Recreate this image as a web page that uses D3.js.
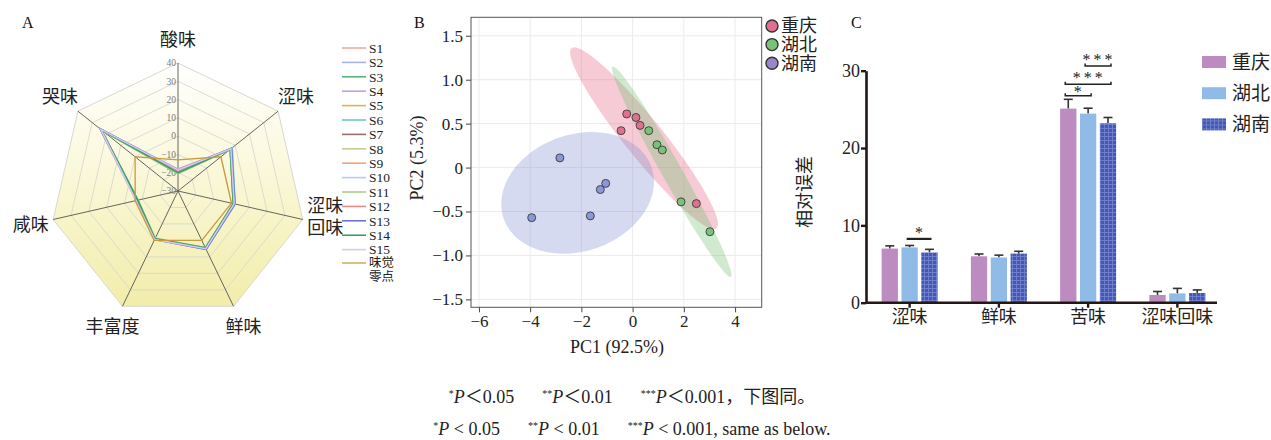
<!DOCTYPE html>
<html>
<head>
<meta charset="utf-8">
<script src="https://cdn.jsdelivr.net/npm/d3@7"></script>
<style>
  body { margin: 0; background: #fff; }
  svg { display: block; }
</style>
</head>
<body>
<svg id="chart" width="1271" height="440"></svg>
<script>
// ---------- data ----------
var tasteAxes = ["酸味", "涩味", "涩味回味", "鲜味", "丰富度", "咸味", "哭味"];
var radarTicks = [-30, -20, -10, 0, 10, 20, 30, 40];
var sampleNames = ["S1","S2","S3","S4","S5","S6","S7","S8","S9","S10","S11","S12","S13","S14","S15"];
var sampleValues = [
  [-19, 7, 1.5, 5, -1, -7, 24],
  [-18.5, 7.5, 2, 5.5, -0.5, -7, 24.5],
  [-20.5, 6.5, 1, 4.5, -1, -7.5, 23.5],
  [-18, 7, 1.5, 5, -0.5, -6.5, 24.5],
  [-19.5, 7, 1.5, 5, -1, -7, 24],
  [-19, 8, 2, 5, -1, -7, 23.5],
  [-19, 7, 1.5, 5, -1, -7, 24],
  [-20, 6.5, 1, 4.5, -1, -7, 23.5],
  [-19, 7, 1.5, 5, -1, -7, 24],
  [-18.5, 7.5, 2, 5.5, -0.5, -6.5, 24.5],
  [-20.5, 6.5, 1, 4.5, -1.5, -7.5, 23.5],
  [-19, 7, 1.5, 5, -1, -7, 24],
  [-18.5, 7.5, 2, 5.5, -0.5, -7, 24.5],
  [-20, 6.5, 1, 4.5, -1, -7.5, 23.5],
  [-18.5, 7, 1.5, 5, -0.5, -6.5, 24]
];
var zeroName = ["味觉", "零点"];
var zeroValues = [-13, 0, 0, 0, 0, -6, 0];

var regions = ["重庆", "湖北", "湖南"];
// PCA scores
var pc1Chongqing = [-0.23, 0.13, 0.29, -0.45, 2.49];
var pc2Chongqing = [0.61, 0.57, 0.48, 0.42, -0.41];
var pc1Hubei = [0.63, 0.95, 1.16, 1.89, 3.02];
var pc2Hubei = [0.42, 0.26, 0.20, -0.39, -0.73];
var pc1Hunan = [-2.84, -1.05, -1.26, -3.94, -1.65];
var pc2Hunan = [0.11, -0.18, -0.25, -0.57, -0.55];
var pcXTicks = [-6, -4, -2, 0, 2, 4];
var pcYTicks = [-1.5, -1.0, -0.5, 0, 0.5, 1.0, 1.5];

// bar chart
var barCats = ["涩味", "鲜味", "苦味", "涩味回味"];
var meanChongqing = [7.0, 6.0, 25.1, 1.0];
var meanHubei = [7.15, 5.85, 24.45, 1.2];
var meanHunan = [6.5, 6.35, 23.2, 1.25];
var errChongqing = [0.35, 0.3, 1.2, 0.45];
var errHubei = [0.25, 0.3, 0.7, 0.65];
var errHunan = [0.4, 0.3, 0.75, 0.4];
var barTicks = [0, 10, 20, 30];
// significance: category, group a, group b, bracket level, label
var sigCat = ["涩味", "苦味", "苦味", "苦味"];
var sigFrom = ["湖北", "重庆", "重庆", "湖北"];
var sigTo = ["湖南", "湖北", "湖南", "湖南"];
var sigLevel = [8.25, 26.75, 28.25, 30.6];
var sigText = ["*", "*", "***", "***"];

// ---------- styles ----------
var serif = "'Liberation Serif','Times New Roman','Noto Sans CJK SC',serif";
var sampleColors = ["#f4a9a2","#a7b3e2","#5cb27a","#c3a2dc","#e2b24e","#6ccac4","#9a6b6b","#c9c994",
                    "#f5a373","#b9c9e9","#a6d18a","#ee8b89","#6678cf","#3c9e62","#d9c9ee"];
var zeroColor = "#c89b3c";
var regionColors = ["#e0708f", "#79c27a", "#8898d8"];
var regionLegend = ["#e0708f", "#79c27a", "#9c86cb"];
var ellipseColors = ["#e8627f", "#6cc06c", "#8090d2"];
var barColors = ["#bc8bc0", "#8fbbe6", "url(#gridBlue)"];

var svg = d3.select("#chart");
var defs = svg.append("defs");

// ---------- panel A: radar ----------
var cx = 178, cy = 191;
var rA = d3.scaleLinear().domain([-30, 40]).range([0, 128]);
function ang(i) { return i * 2 * Math.PI / tasteAxes.length; }
function pt(i, v) { var a = ang(i), r = rA(v); return [cx + r * Math.sin(a), cy - r * Math.cos(a)]; }

var grad = defs.append("linearGradient").attr("id", "radarFill")
  .attr("gradientUnits", "userSpaceOnUse").attr("x1", 0).attr("y1", 63).attr("x2", 0).attr("y2", 304);
grad.append("stop").attr("offset", "0").attr("stop-color", "#ffffff");
grad.append("stop").attr("offset", "0.4").attr("stop-color", "#fbf9de");
grad.append("stop").attr("offset", "1").attr("stop-color", "#f2edab");

var gA = svg.append("g");
var ring = d3.line().curve(d3.curveLinearClosed);

gA.append("path")
  .attr("d", ring(tasteAxes.map(function (d, i) { return pt(i, 40); })))
  .attr("fill", "url(#radarFill)").attr("stroke", "#d8d8d0").attr("stroke-width", 1);

gA.selectAll(".ring").data(radarTicks.slice(1, -1)).enter().append("path")
  .attr("d", function (v) { return ring(tasteAxes.map(function (d, i) { return pt(i, v); })); })
  .attr("fill", "none").attr("stroke", "#d4d4cc").attr("stroke-width", 0.8);

gA.selectAll(".spoke").data(tasteAxes).enter().append("line")
  .attr("x1", cx).attr("y1", cy)
  .attr("x2", function (d, i) { return pt(i, 40)[0]; })
  .attr("y2", function (d, i) { return pt(i, 40)[1]; })
  .attr("stroke", "#555").attr("stroke-width", 0.9);

gA.selectAll(".rtick").data(radarTicks).enter().append("text")
  .attr("x", cx - 2).attr("y", function (v) { return cy - rA(v); })
  .attr("dy", "0.35em").attr("text-anchor", "end")
  .style("font-family", serif).style("font-size", "9.5px").attr("fill", "#7a7a7a")
  .text(function (v) { return d3.format("d")(v); });

var radarLine = d3.line().curve(d3.curveLinearClosed);
gA.selectAll(".sample").data(sampleValues).enter().append("path")
  .attr("d", function (vals) { return radarLine(vals.map(function (v, i) { return pt(i, v); })); })
  .attr("fill", "none")
  .attr("stroke", function (d, i) { return sampleColors[i]; })
  .attr("stroke-width", 1.5);
gA.append("path")
  .attr("d", radarLine(zeroValues.map(function (v, i) { return pt(i, v); })))
  .attr("fill", "none").attr("stroke", zeroColor).attr("stroke-width", 1.3);

// axis labels
gA.selectAll(".alabel").data(tasteAxes).enter().append("text")
  .attr("text-anchor", "middle")
  .style("font-family", serif).style("font-size", "18px").attr("fill", "#222")
  .each(function (d, i) {
    var a = ang(i), rr = 151;
    var x = cx + rr * Math.sin(a), y = cy - rr * Math.cos(a);
    var lines = d.length === 4 ? [d.slice(0, 2), d.slice(2)] : [d];
    var t = d3.select(this);
    lines.forEach(function (s, k) {
      t.append("tspan").attr("x", x)
        .attr("y", lines.length > 1 ? y - 19 + k * 22 : y)
        .attr("dy", "0.35em").text(s);
    });
  });

// legend A
var legA = svg.append("g").attr("transform", "translate(342,48)");
var legItems = legA.selectAll(".item").data(sampleNames).enter().append("g")
  .attr("class", "item")
  .attr("transform", function (d, i) { return "translate(0," + (i * 14.4) + ")"; });
legItems.append("line").attr("x1", 0).attr("x2", 24)
  .attr("stroke", function (d, i) { return sampleColors[i]; }).attr("stroke-width", 1.6);
legItems.append("text").attr("x", 27).attr("dy", "0.35em")
  .style("font-family", serif).style("font-size", "13.5px").attr("fill", "#222")
  .text(function (d) { return d; });
var zy = 15 * 14.4 - 1;
legA.append("line").attr("x1", 0).attr("x2", 24).attr("y1", zy).attr("y2", zy)
  .attr("stroke", zeroColor).attr("stroke-width", 1.3);
zeroName.forEach(function (s, k) {
  legA.append("text").attr("x", 27).attr("y", zy + k * 14).attr("dy", "0.35em")
    .style("font-family", "'Noto Sans CJK SC',sans-serif").style("font-size", "12.5px")
    .attr("fill", "#222").text(s);
});

// ---------- panel B: PCA ----------
var xB = d3.scaleLinear().domain([-6.31, 5.04]).range([471, 761.7]);
var yB = d3.scaleLinear().domain([-1.59, 1.71]).range([307.3, 17.3]);
var gB = svg.append("g");

gB.selectAll(".gx").data(pcXTicks).enter().append("line")
  .attr("x1", function (d) { return xB(d); }).attr("x2", function (d) { return xB(d); })
  .attr("y1", yB.range()[0]).attr("y2", yB.range()[1])
  .attr("stroke", "#ebebeb").attr("stroke-width", 1);
gB.selectAll(".gy").data(pcYTicks).enter().append("line")
  .attr("y1", function (d) { return yB(d); }).attr("y2", function (d) { return yB(d); })
  .attr("x1", xB.range()[0]).attr("x2", xB.range()[1])
  .attr("stroke", "#ebebeb").attr("stroke-width", 1);

function ellipse(xs, ys) {
  var n = xs.length, mx = d3.mean(xs), my = d3.mean(ys);
  var sxx = 0, syy = 0, sxy = 0;
  for (var i = 0; i < n; i++) {
    sxx += (xs[i] - mx) * (xs[i] - mx);
    syy += (ys[i] - my) * (ys[i] - my);
    sxy += (xs[i] - mx) * (ys[i] - my);
  }
  sxx /= n - 1; syy /= n - 1; sxy /= n - 1;
  var tr = sxx + syy, det = sxx * syy - sxy * sxy;
  var disc = Math.sqrt(tr * tr / 4 - det);
  var l1 = tr / 2 + disc, l2 = tr / 2 - disc;
  var th = Math.atan2(l1 - sxx, sxy);
  var k = Math.sqrt(5.991);  // 95% normal ellipse
  return d3.range(0, 121).map(function (j) {
    var t = 2 * Math.PI * j / 120;
    var ex = k * Math.sqrt(l1) * Math.cos(t), ey = k * Math.sqrt(l2) * Math.sin(t);
    return [mx + ex * Math.cos(th) - ey * Math.sin(th), my + ex * Math.sin(th) + ey * Math.cos(th)];
  });
}
var pcX = [pc1Chongqing, pc1Hubei, pc1Hunan];
var pcY = [pc2Chongqing, pc2Hubei, pc2Hunan];
var eLine = d3.line().x(function (d) { return xB(d[0]); }).y(function (d) { return yB(d[1]); })
  .curve(d3.curveLinearClosed);

regions.forEach(function (r, g) {
  gB.append("path").attr("d", eLine(ellipse(pcX[g], pcY[g])))
    .attr("fill", ellipseColors[g]).attr("fill-opacity", 0.33).attr("stroke", "none");
});
regions.forEach(function (r, g) {
  gB.selectAll(".p" + g).data(pcX[g]).enter().append("circle")
    .attr("cx", function (d) { return xB(d); })
    .attr("cy", function (d, i) { return yB(pcY[g][i]); })
    .attr("r", 4)
    .attr("fill", regionColors[g]).attr("stroke", "#3a3a3a").attr("stroke-width", 0.9);
});

gB.append("rect")
  .attr("x", xB.range()[0]).attr("y", yB.range()[1])
  .attr("width", xB.range()[1] - xB.range()[0]).attr("height", yB.range()[0] - yB.range()[1])
  .attr("fill", "none").attr("stroke", "#555").attr("stroke-width", 1);

var axBx = gB.append("g").attr("transform", "translate(0," + yB.range()[0] + ")")
  .call(d3.axisBottom(xB).tickValues(pcXTicks).tickSize(5).tickFormat(d3.format("d")));
var axBy = gB.append("g").attr("transform", "translate(" + xB.range()[0] + ",0)")
  .call(d3.axisLeft(yB).tickValues(pcYTicks).tickSize(5)
    .tickFormat(function (d) { return d === 0 ? "0" : d3.format(".1f")(d); }));
[axBx, axBy].forEach(function (ax) {
  ax.select(".domain").remove();
  ax.selectAll("line").attr("stroke", "#444");
  ax.selectAll("text").style("font-family", serif).style("font-size", "17px").attr("fill", "#222");
});

gB.append("text").attr("x", 617).attr("y", 353).attr("text-anchor", "middle")
  .style("font-family", serif).style("font-size", "18px").attr("fill", "#222").text("PC1 (92.5%)");
gB.append("text").attr("transform", "translate(423,158) rotate(-90)").attr("text-anchor", "middle")
  .style("font-family", serif).style("font-size", "18px").attr("fill", "#222").text("PC2 (5.3%)");

var legB = gB.selectAll(".legB").data(regions).enter().append("g")
  .attr("transform", function (d, i) { return "translate(772," + (26 + i * 18.6) + ")"; });
legB.append("circle").attr("r", 6).attr("fill", function (d, i) { return regionLegend[i]; })
  .attr("stroke", "#333").attr("stroke-width", 1.4);
legB.append("text").attr("x", 9).attr("dy", "0.36em")
  .style("font-family", serif).style("font-size", "18px").attr("fill", "#222")
  .text(function (d) { return d; });

// ---------- panel C: bars ----------
var pat = defs.append("pattern").attr("id", "gridBlue").attr("patternUnits", "userSpaceOnUse")
  .attr("width", 4).attr("height", 4);
pat.append("rect").attr("width", 4).attr("height", 4).attr("fill", "#4557b2");
pat.append("path").attr("d", "M0,0.5H4M0.5,0V4").attr("stroke", "#7686d2").attr("stroke-width", 0.8);

var xC = d3.scaleBand().domain(barCats).range([865, 1222]);
var xSub = d3.scaleBand().domain(regions).range([-28, 28]).paddingInner(0.18);
var yC = d3.scaleLinear().domain([0, 30]).range([302.7, 70.7]);
var means = [meanChongqing, meanHubei, meanHunan];
var errs = [errChongqing, errHubei, errHunan];
function cxC(cat, reg) { return xC(cat) + xC.bandwidth() / 2 + xSub(reg) + xSub.bandwidth() / 2; }

var gC = svg.append("g");
regions.forEach(function (r, g) {
  var bars = gC.selectAll(".b" + g).data(barCats).enter();
  bars.append("line")
    .attr("x1", function (c) { return cxC(c, r); }).attr("x2", function (c) { return cxC(c, r); })
    .attr("y1", function (c, i) { return yC(means[g][i]); })
    .attr("y2", function (c, i) { return yC(means[g][i] + errs[g][i]); })
    .attr("stroke", "#333").attr("stroke-width", 1.6);
  bars.append("line")
    .attr("x1", function (c) { return cxC(c, r) - 4.5; }).attr("x2", function (c) { return cxC(c, r) + 4.5; })
    .attr("y1", function (c, i) { return yC(means[g][i] + errs[g][i]); })
    .attr("y2", function (c, i) { return yC(means[g][i] + errs[g][i]); })
    .attr("stroke", "#333").attr("stroke-width", 1.6);
  bars.append("rect")
    .attr("x", function (c) { return xC(c) + xC.bandwidth() / 2 + xSub(r); })
    .attr("width", xSub.bandwidth())
    .attr("y", function (c, i) { return yC(means[g][i]); })
    .attr("height", function (c, i) { return yC(0) - yC(means[g][i]); })
    .attr("fill", barColors[g]);
});

sigCat.forEach(function (c, k) {
  var x1 = cxC(c, sigFrom[k]), x2 = cxC(c, sigTo[k]), y = yC(sigLevel[k]);
  var thick = c === "涩味";
  gC.append("path")
    .attr("d", thick ? "M" + (x1 - 3) + "," + y + "H" + (x2 + 2)
                     : "M" + (x1 - 3) + "," + (y - 2.5) + "V" + y + "H" + (x2 + 3) + "V" + (y - 2.5))
    .attr("fill", "none").attr("stroke", "#222").attr("stroke-width", thick ? 2.2 : 1.5);
  gC.append("text").attr("x", (x1 + x2) / 2 + 1)
    .attr("y", y + (thick ? -1 : (sigText[k].length > 1 ? -1 : 1)))
    .attr("text-anchor", "middle")
    .style("font-family", serif).style("font-size", "16px")
    .style("letter-spacing", "3px").attr("fill", "#222").text(sigText[k]);
});

var axCy = gC.append("g").attr("transform", "translate(866,0)")
  .call(d3.axisLeft(yC).tickValues(barTicks).tickSize(5).tickSizeOuter(0));
var axCx = gC.append("g").attr("transform", "translate(0," + yC(0) + ")")
  .call(d3.axisBottom(xC).tickSize(5).tickSizeOuter(0));
axCx.select(".domain").remove();
gC.append("line").attr("x1", 866).attr("x2", 1217).attr("y1", yC(0)).attr("y2", yC(0))
  .attr("stroke", "#231815").attr("stroke-width", 2.6);
[axCx, axCy].forEach(function (ax) {
  ax.selectAll("line").attr("stroke", "#231815").attr("stroke-width", 2.4);
  ax.select(".domain").attr("stroke", "#231815").attr("stroke-width", 2.6);
  ax.selectAll("text").style("font-family", serif).style("font-size", "18px").attr("fill", "#222");
});
axCy.selectAll("text").attr("x", -6);

gC.append("text").attr("transform", "translate(811,192) rotate(-90)").attr("text-anchor", "middle")
  .style("font-family", serif).style("font-size", "18px").attr("fill", "#222").text("相对误差");

var legC = gC.selectAll(".legC").data(regions).enter().append("g")
  .attr("transform", function (d, i) { return "translate(1202," + (62 + i * 31.2) + ")"; });
legC.append("rect").attr("x", 0).attr("y", -6).attr("width", 24).attr("height", 12)
  .attr("fill", function (d, i) { return barColors[i]; });
legC.append("text").attr("x", 30).attr("dy", "0.36em")
  .style("font-family", serif).style("font-size", "19px").attr("fill", "#222")
  .text(function (d) { return d; });

// ---------- panel letters ----------
[["A", 22], ["B", 414], ["C", 851]].forEach(function (p) {
  svg.append("text").attr("x", p[1]).attr("y", 28)
    .style("font-family", serif).style("font-size", "16px").attr("fill", "#111").text(p[0]);
});

// ---------- footnote ----------
function footnote(y, lt, tail) {
  var t = svg.append("text").attr("x", 632).attr("y", y).attr("text-anchor", "middle")
    .style("font-family", serif).style("font-size", "18px").attr("fill", "#222");
  var parts = [["*", "0.05"], ["**", "0.01"], ["***", "0.001"]];
  parts.forEach(function (p, i) {
    t.append("tspan").attr("dx", i === 0 ? 0 : 28).attr("dy", -6).style("font-size", "10px").text(p[0]);
    t.append("tspan").attr("dy", 6).style("font-style", "italic").text("P");
    t.append("tspan").text(lt + p[1] + (i === 2 ? tail : ""));
  });
}
footnote(403, "＜", "，下图同。");
footnote(435, " < ", ", same as below.");
</script>
</body>
</html>
